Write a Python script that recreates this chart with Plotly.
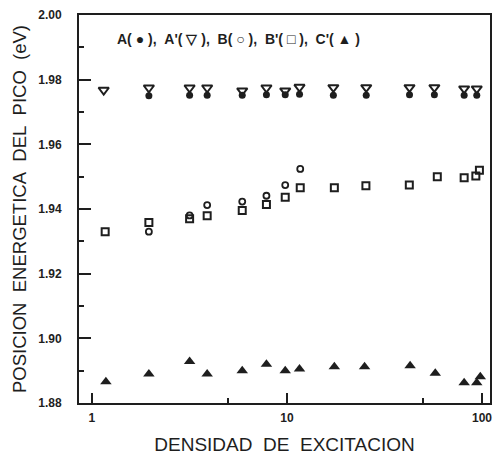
import plotly.graph_objects as go

# A (filled circles)
xA = [1.96, 3.17, 3.9, 5.9, 7.85, 9.8, 11.6, 17.3, 25.5, 42.5, 57, 81, 94]
yA = [1.9750, 1.9752, 1.9752, 1.9752, 1.9753, 1.9753, 1.9755, 1.9752, 1.9752, 1.9753, 1.9753, 1.9752, 1.9752]
# A' (open down triangles)
xAp = [1.15, 1.96, 3.17, 3.9, 5.9, 7.85, 9.8, 11.6, 17.3, 25.5, 42.5, 57, 81, 94]
yAp = [1.9768, 1.9775, 1.9775, 1.9775, 1.9766, 1.9775, 1.9766, 1.9777, 1.9776, 1.9776, 1.9776, 1.9776, 1.9772, 1.9772]
# B (open circles)
xB = [1.96, 3.17, 3.9, 5.9, 7.85, 9.8, 11.7]
yB = [1.9330, 1.9380, 1.9412, 1.9423, 1.9441, 1.9474, 1.9524]
# B' (open squares)
xBp = [1.17, 1.96, 3.17, 3.9, 5.9, 7.85, 9.8, 11.7, 17.5, 25.4, 42.4, 59, 81, 93, 97]
yBp = [1.9330, 1.9358, 1.9370, 1.9379, 1.9395, 1.9414, 1.9436, 1.9466, 1.9466, 1.9472, 1.9474, 1.9500, 1.9497, 1.9502, 1.9520]
# C' (filled triangles)
xC = [1.18, 1.96, 3.17, 3.9, 5.9, 7.85, 9.8, 11.6, 17.5, 25, 42.8, 57.6, 81, 94, 98]
yC = [1.8866, 1.8890, 1.8928, 1.8890, 1.8900, 1.8920, 1.8900, 1.8905, 1.8912, 1.8912, 1.8915, 1.8892, 1.8863, 1.8863, 1.8881]

yticks = [1.88, 1.90, 1.92, 1.94, 1.96, 1.98, 2.00]
yticklabels = ["1.88", "1.90", "1.92", "1.94", "1.96", "1.98", "2.00"]
xticks = [1, 10, 100]
xticklabels = ["1", "10", "100"]
xminor = [5, 50]

ink = "#1e1e1e"
sp = "\u00a0"
fig = go.Figure()
fig.add_trace(go.Scatter(x=xA, y=yA, mode="markers",
                         marker=dict(symbol="circle", size=7, color=ink)))
fig.add_trace(go.Scatter(x=xAp, y=yAp, mode="markers",
                         marker=dict(symbol="triangle-down-open", size=9, color=ink, line=dict(width=2, color=ink))))
fig.add_trace(go.Scatter(x=xB, y=yB, mode="markers",
                         marker=dict(symbol="circle-open", size=6, color=ink, line=dict(width=1.8, color=ink))))
fig.add_trace(go.Scatter(x=xBp, y=yBp, mode="markers",
                         marker=dict(symbol="square-open", size=7, color=ink, line=dict(width=2, color=ink))))
fig.add_trace(go.Scatter(x=xC, y=yC, mode="markers",
                         marker=dict(symbol="triangle-up", size=10, color=ink)))

legend_text = ("A({s}●{s}),{s}{s}A'({s}▽{s}),{s}{s}B({s}○{s}),{s}{s}B'({s}□{s}),{s}{s}C'({s}▲{s})").format(s=sp)
fig.add_annotation(text="<b>" + legend_text + "</b>", xref="paper", yref="paper",
                   x=0.087, y=0.938, xanchor="left", yanchor="middle", showarrow=False,
                   font=dict(family="Liberation Sans, Arial", size=14, color=ink))

fig.update_layout(
    width=498, height=460,
    margin=dict(l=79, r=6, t=15, b=57),
    paper_bgcolor="white", plot_bgcolor="white",
    showlegend=False,
    font=dict(family="Liberation Sans, Arial", color=ink),
    xaxis=dict(type="log", range=[-0.066, 2.041],
               tickvals=xticks, ticktext=xticklabels,
               ticks="inside", ticklen=10, tickwidth=1.5, tickcolor=ink,
               minor=dict(tickvals=xminor, ticks="inside", ticklen=5, tickwidth=1.5, tickcolor=ink),
               showgrid=False, zeroline=False,
               showline=True, linewidth=2, linecolor=ink, mirror=True,
               ticklabelstandoff=3,
               tickfont=dict(size=12, color=ink, family="Liberation Sans, Arial", weight="bold"),
               title=dict(text="DENSIDAD" + sp * 2 + "DE" + sp * 2 + "EXCITACION", font=dict(size=19, color=ink), standoff=13)),
    yaxis=dict(range=[1.88, 2.00],
               tickvals=yticks, ticktext=yticklabels,
               ticks="inside", ticklen=12, tickwidth=1.5, tickcolor=ink,
               minor=dict(dtick=0.01, tick0=1.88, ticks="inside", ticklen=5, tickwidth=1.5, tickcolor=ink),
               showgrid=False, zeroline=False,
               showline=True, linewidth=2, linecolor=ink, mirror=True,
               ticklabelstandoff=13,
               tickfont=dict(size=12, color=ink, family="Liberation Sans, Arial", weight="bold"),
               title=dict(text=(sp * 2).join(["POSICION", "ENERGETICA", "DEL", "PICO", "(eV)"]),
                          font=dict(size=18.5, color=ink), standoff=7)),
)

fig.write_html("out.html")
